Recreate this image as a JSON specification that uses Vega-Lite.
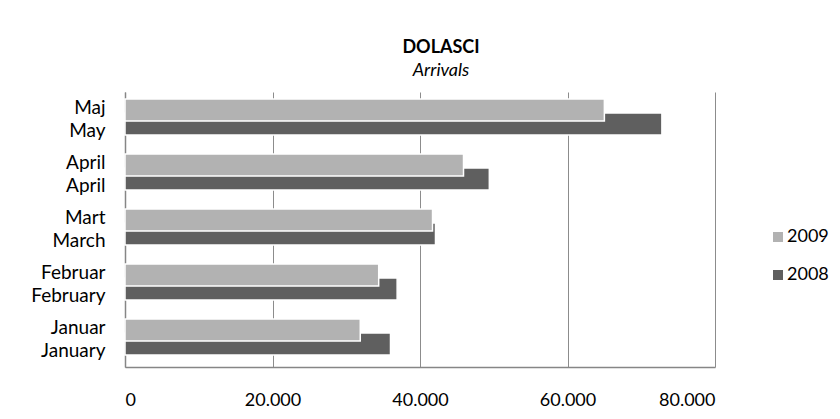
{
  "$schema": "https://vega.github.io/schema/vega-lite/v6.json",
  "width": 590,
  "height": 275,
  "autosize": {"type": "none"},
  "padding": {"left": 125, "top": 92, "right": 125, "bottom": 52},
  "background": "white",
  "title": {
    "text": "DOLASCI",
    "subtitle": "Arrivals",
    "font": "Lato",
    "fontSize": 18,
    "fontWeight": "bold",
    "color": "#000000",
    "subtitleFont": "Lato",
    "subtitleFontSize": 18,
    "subtitleFontStyle": "italic",
    "subtitleColor": "#000000",
    "anchor": "middle",
    "dx": 21,
    "offset": 12,
    "subtitlePadding": 5
  },
  "data": {
    "values": [
      {"month": "Maj|May", "year": "2008", "arrivals": 72800},
      {"month": "April|April", "year": "2008", "arrivals": 49400},
      {"month": "Mart\u00a0|March", "year": "2008", "arrivals": 42100},
      {"month": "Februar\u00a0|February", "year": "2008", "arrivals": 36900},
      {"month": "Januar\u00a0|January", "year": "2008", "arrivals": 36000},
      {"month": "Maj|May", "year": "2009", "arrivals": 65000},
      {"month": "April|April", "year": "2009", "arrivals": 45900},
      {"month": "Mart\u00a0|March", "year": "2009", "arrivals": 41700},
      {"month": "Februar\u00a0|February", "year": "2009", "arrivals": 34400},
      {"month": "Januar\u00a0|January", "year": "2009", "arrivals": 31900}
    ]
  },
  "mark": {"type": "bar", "height": 22, "stroke": "white", "strokeWidth": 1.5},
  "encoding": {
    "y": {
      "field": "month",
      "type": "nominal",
      "sort": ["Maj|May", "April|April", "Mart\u00a0|March", "Februar\u00a0|February", "Januar\u00a0|January"],
      "scale": {"paddingInner": 0.49, "paddingOuter": 0.245, "align": 0.41},
      "axis": {
        "title": null,
        "labelExpr": "split(datum.value, '|')",
        "labelFont": "Lato",
        "labelFontSize": 19,
        "labelColor": "#000000",
        "labelLineHeight": 23,
        "labelAlign": "right",
        "labelBaseline": "middle",
        "labelOffset": -9,
        "labelPadding": 20,
        "ticks": false,
        "domain": true,
        "domainColor": "#868686",
        "domainWidth": 1.5,
        "grid": false
      }
    },
    "yOffset": {
      "field": "year",
      "type": "nominal",
      "sort": ["2009", "2008"],
      "scale": {"paddingInner": 0, "paddingOuter": 0}
    },
    "x": {
      "field": "arrivals",
      "type": "quantitative",
      "scale": {"domain": [0, 80000], "nice": false},
      "axis": {
        "title": null,
        "values": [0, 20000, 40000, 60000, 80000],
        "labelExpr": "replace(format(datum.value, ','), ',', '.')",
        "labelFont": "Lato",
        "labelFontSize": 18,
        "labelColor": "#000000",
        "labelPadding": 24,
        "ticks": false,
        "domain": true,
        "domainColor": "#868686",
        "domainWidth": 1.5,
        "grid": true,
        "gridColor": "#8c8c8c",
        "gridWidth": 1
      }
    },
    "color": {
      "field": "year",
      "type": "nominal",
      "scale": {"domain": ["2009", "2008"], "range": ["#B2B2B2", "#5F5F5F"]},
      "legend": {
        "title": null,
        "orient": "none",
        "legendX": 644,
        "legendY": 136,
        "symbolType": "square",
        "symbolSize": 100,
        "symbolStrokeWidth": 0,
        "labelFont": "Lato",
        "labelFontSize": 18,
        "labelColor": "#000000",
        "labelOffset": 0,
        "rowPadding": 20
      }
    }
  },
  "config": {"view": {"stroke": null}}
}
